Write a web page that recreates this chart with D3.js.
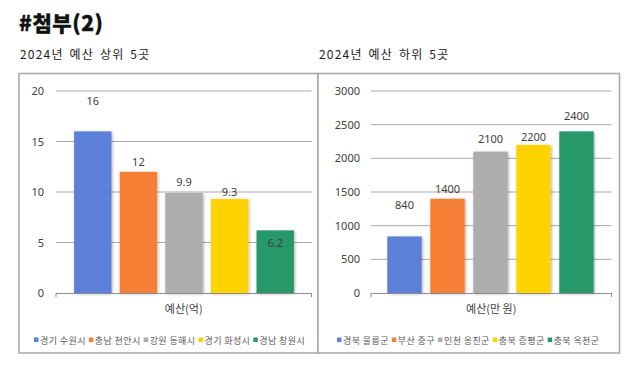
<!DOCTYPE html>
<html><head><meta charset="utf-8">
<script src="https://cdn.jsdelivr.net/npm/d3@7"></script>
<style>
html,body{margin:0;padding:0;background:#fff;}
svg{display:block;}
</style></head>
<body>
<svg id="c" width="640" height="369"></svg>
<script>
const title = "#첨부(2)";
const leftSubtitle = "2024년 예산 상위 5곳";
const rightSubtitle = "2024년 예산 하위 5곳";
const leftCategories = ["경기 수원시","충남 천안시","강원 동해시","경기 화성시","경남 창원시"];
const leftValues = [16, 12, 9.9, 9.3, 6.2];
const leftLabels = ["16","12","9.9","9.3","6.2"];
const leftTicks = [0,5,10,15,20];
const leftAxisTitle = "예산(억)";
const rightCategories = ["경북 울릉군","부산 중구","인천 옹진군","충북 증평군","충북 옥천군"];
const rightValues = [840, 1400, 2100, 2200, 2400];
const rightLabels = ["840","1400","2100","2200","2400"];
const rightTicks = [0,500,1000,1500,2000,2500,3000];
const rightAxisTitle = "예산(만 원)";
const colors = ["#5b7fd7","#f57f34","#adadad","#fed300","#25986b"];

const svg = d3.select("#c");
const defs = svg.append("defs");
const f = defs.append("filter").attr("id","sh").attr("x","-30%").attr("y","-30%").attr("width","160%").attr("height","160%");
f.append("feDropShadow").attr("dx",1).attr("dy",1).attr("stdDeviation",1.6).attr("flood-color","#000").attr("flood-opacity",0.3);

const KR = "'Noto Sans CJK KR','Noto Sans',sans-serif";

svg.append("text").attr("x",19).attr("y",31).text(title)
  .attr("font-family",KR).attr("font-weight","900").attr("font-size",21).attr("letter-spacing",0.6)
  .attr("fill","#111").attr("stroke","#111").attr("stroke-width",0.4);

function panel(o){
  const g = svg.append("g");
  g.append("text").attr("x",o.box[0]+1).attr("y",59).text(o.subtitle)
    .attr("font-family",KR).attr("font-size",12).attr("fill","#222").attr("letter-spacing",1.2).attr("word-spacing",2);
  g.append("rect").attr("x",o.box[0]).attr("y",73.5).attr("width",o.box[1]-o.box[0]).attr("height",353-73.5)
    .attr("fill","#fff").attr("stroke","#a6a6a6").attr("stroke-width",1.5);

  const y = d3.scaleLinear().domain([0,o.ticks[o.ticks.length-1]]).range([293,91]);
  const x = d3.scaleBand().domain(o.cats).range(o.band).paddingInner(o.pad).paddingOuter(o.pad/2);

  g.append("g").selectAll("line").data(o.ticks.slice(1)).join("line")
    .attr("x1",o.grid[0]).attr("x2",o.grid[1]).attr("y1",d=>y(d)).attr("y2",d=>y(d))
    .attr("stroke","#a9a9a9").attr("stroke-width",1);
  g.append("g").selectAll("text").data(o.ticks).join("text")
    .attr("x",o.labelX).attr("y",d=>y(d)+4).attr("text-anchor","end").text(d=>d)
    .attr("font-family","'Noto Sans',sans-serif").attr("font-size",11).attr("fill","#404040");
  g.append("g").selectAll("rect").data(o.vals).join("rect")
    .attr("x",(d,i)=>x(o.cats[i])).attr("width",x.bandwidth())
    .attr("y",d=>y(d)).attr("height",d=>y(0)-y(d))
    .attr("fill",(d,i)=>colors[i]).attr("filter","url(#sh)");
  const base = g.append("g").attr("stroke","#8c8c8c").attr("stroke-width",1);
  base.append("line").attr("x1",o.grid[0]).attr("x2",o.grid[1]).attr("y1",y(0)+0.5).attr("y2",y(0)+0.5);
  base.append("line").attr("x1",o.grid[0]).attr("x2",o.grid[0]).attr("y1",y(0)).attr("y2",y(0)+4);
  base.append("line").attr("x1",o.grid[1]).attr("x2",o.grid[1]).attr("y1",y(0)).attr("y2",y(0)+4);
  g.append("g").selectAll("text").data(o.vals).join("text")
    .attr("x",(d,i)=>x(o.cats[i])+x.bandwidth()/2).attr("y",(d,i)=>y(d)+o.dy[i]+4)
    .attr("text-anchor","middle").text((d,i)=>o.labels[i])
    .attr("font-family","'Noto Sans',sans-serif").attr("font-size",11).attr("fill","#404040");
  g.append("text").attr("x",(o.grid[0]+o.grid[1])/2).attr("y",313).attr("text-anchor","middle")
    .text(o.axisTitle).attr("font-family",KR).attr("font-size",11).attr("fill","#404040");
  const lg = g.append("g").attr("transform",`translate(${o.legendX},341)`);
  let cx = 0;
  o.cats.forEach((c,i)=>{
    lg.append("rect").attr("x",cx).attr("y",-3.5).attr("width",4.5).attr("height",4.5).attr("fill",colors[i]);
    const t = lg.append("text").attr("x",cx+6).attr("y",3).text(c)
      .attr("font-family",KR).attr("font-size",9).attr("letter-spacing",0.4).attr("fill","#595959");
    cx += 6 + t.node().getComputedTextLength() + 3;
  });
}

panel({box:[19,318], subtitle:leftSubtitle, cats:leftCategories, vals:leftValues, labels:leftLabels,
  ticks:leftTicks, axisTitle:leftAxisTitle, band:[70,298], pad:0.18, grid:[56,311.5], labelX:44,
  dy:[-30,-10,-11,-7,13], legendX:34});
panel({box:[318,619.5], subtitle:rightSubtitle, cats:rightCategories, vals:rightValues, labels:rightLabels,
  ticks:rightTicks, axisTitle:rightAxisTitle, band:[383,598], pad:0.2, grid:[371,611.5], labelX:360,
  dy:[-31,-10,-13,-8,-15], legendX:337});
</script>
</body></html>
